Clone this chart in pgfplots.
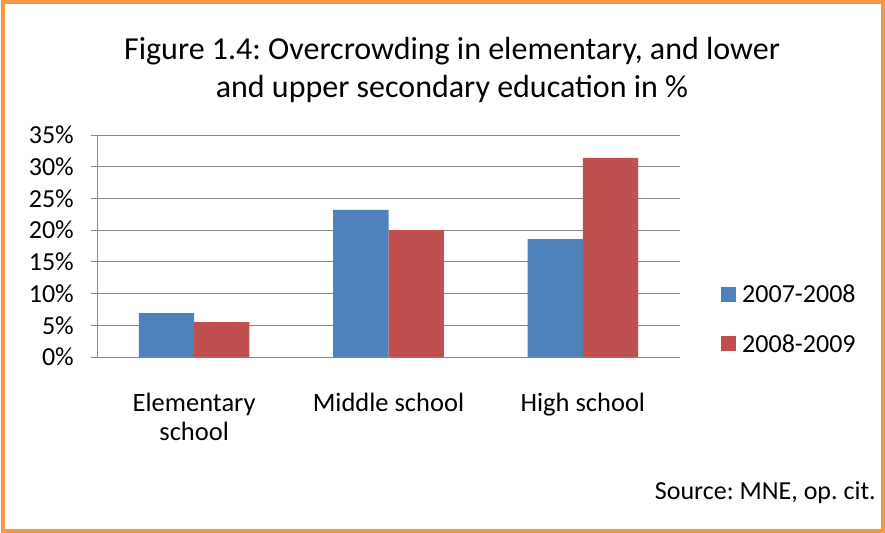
\documentclass[border=0pt]{standalone}
\usepackage{pgfplots}
\pgfplotsset{compat=1.18}
\usepackage{fontspec}
\setmainfont{Carlito}
\frenchspacing
\definecolor{xlblue}{HTML}{4F81BD}
\definecolor{xlred}{HTML}{C0504D}
\definecolor{xlorange}{HTML}{F79646}
\definecolor{xlgrid}{HTML}{868686}
\begin{document}
\begin{tikzpicture}[x=1bp,y=1bp]
\useasboundingbox (0,0) rectangle (885,533);
\draw[xlorange, line width=4bp] (3,2) rectangle (883,531);
\node[anchor=base] at (452,473.7) {\fontsize{32bp}{36bp}\selectfont Figure 1.4: Overcrowding in elementary, and lower};
\node[anchor=base] at (452,435) {\fontsize{32bp}{36bp}\selectfont and upper secondary education in \%};
\node[anchor=base east, inner sep=0pt] at (876,33) {\fontsize{26bp}{30bp}\selectfont Source: MNE, op. cit.};
\begin{axis}[
  at={(97bp,176bp)}, anchor=south west,
  scale only axis, width=583bp, height=222bp,
  xmin=-0.5, xmax=2.5, ymin=0, ymax=35,
  ybar=0pt, bar width=55.3bp,
  xtick={0,1,2},
  xticklabels={{Elementary\\school},{Middle school},{High school}},
  ytick={0,5,10,15,20,25,30,35},
  yticklabels={0\%,5\%,10\%,15\%,20\%,25\%,30\%,35\%},
  axis x line*=bottom, axis y line*=left,
  axis line style={xlgrid, line width=0.8bp, -},
  ymajorgrids, grid style={xlgrid, line width=0.8bp},
  tick align=outside, major tick length=6bp,
  xtick style={draw=none},
  ytick style={xlgrid, line width=0.8bp},
  yticklabel style={font=\fontsize{26bp}{29bp}\selectfont, anchor=east, inner sep=0pt, xshift=-17bp},
  xticklabel style={font=\fontsize{26.5bp}{29bp}\selectfont, align=center, anchor=north, inner sep=0pt, yshift=-30bp},
  legend style={at={(1,0.169)}, anchor=west, xshift=41bp, draw=none, fill=none,
    inner sep=0pt, row sep=30bp, font=\fontsize{26bp}{29bp}\selectfont,
    nodes={inner sep=0pt, anchor=west}},
  legend cell align=left,
  legend image code/.code={\fill (0bp,-7bp) rectangle (15bp,8bp); \path (21bp,0);},
]
\addplot[fill=xlblue, draw=none] coordinates {(0,6.9) (1,23.2) (2,18.6)};
\addplot[fill=xlred, draw=none] coordinates {(0,5.5) (1,20.0) (2,31.4)};
\legend{2007-2008,2008-2009}
\end{axis}
\end{tikzpicture}
\end{document}
